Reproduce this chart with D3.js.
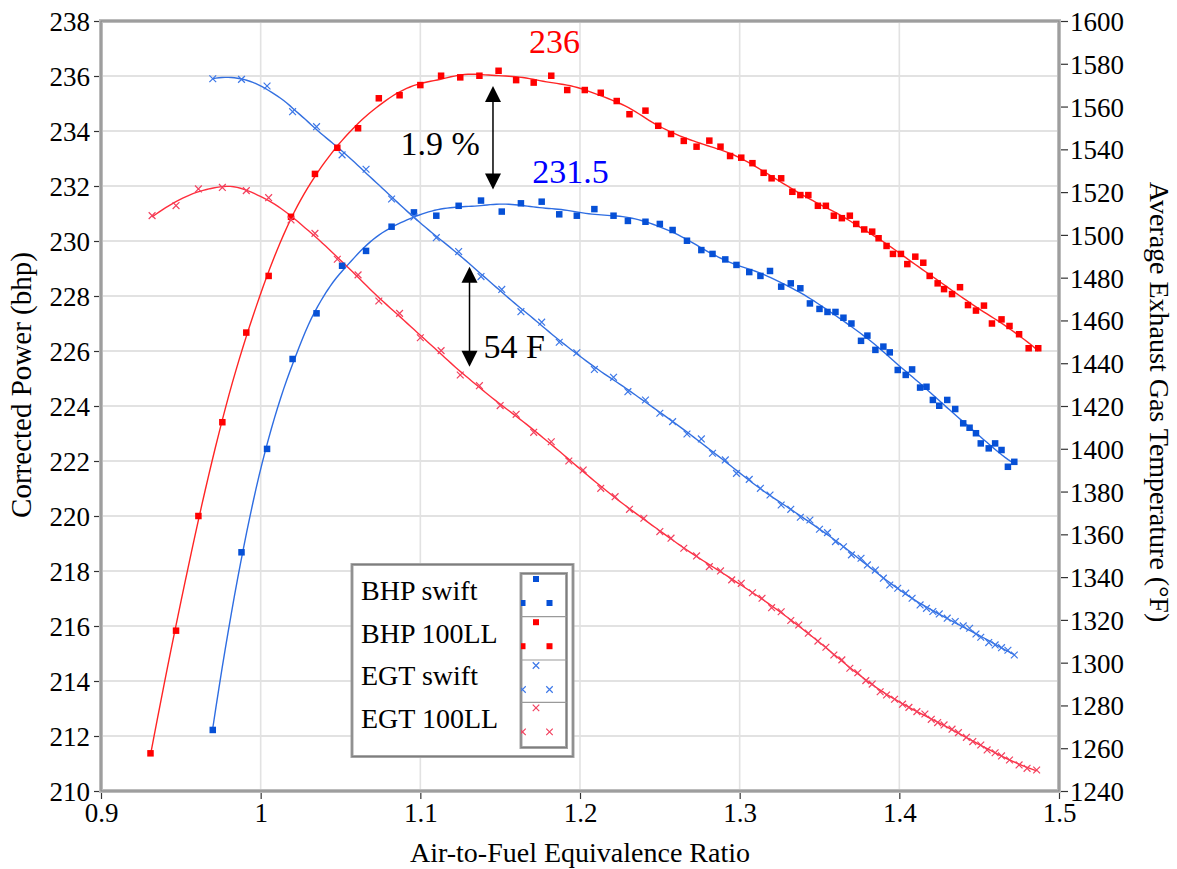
<!DOCTYPE html>
<html><head><meta charset="utf-8">
<script src="https://cdn.jsdelivr.net/npm/d3@7/dist/d3.min.js"></script>
<style>
body{margin:0;background:#fff;}
svg{display:block;}
text{font-family:'Liberation Serif','Times New Roman',serif;fill:#000;}
</style>
</head><body>
<svg id="chart" width="1177" height="869"></svg>
<script>
// ---------------- data ----------------
const xTicks = [0.9, 1.0, 1.1, 1.2, 1.3, 1.4, 1.5];
const xTickLabels = ["0.9", "1", "1.1", "1.2", "1.3", "1.4", "1.5"];
const yLeftTicks = [210,212,214,216,218,220,222,224,226,228,230,232,234,236,238];
const yRightTicks = [1240,1260,1280,1300,1320,1340,1360,1380,1400,1420,1440,1460,1480,1500,1520,1540,1560,1580,1600];
const seriesNames = ["BHP swift", "BHP 100LL", "EGT swift", "EGT 100LL"];

// swift fuel test points (shared by BHP swift and EGT swift)
const ratioSwift = [0.970,0.988,1.004,1.020,1.035,1.051,1.066,1.082,1.096,1.110,1.124,1.138,1.151,1.163,1.176,1.187,1.198,1.209,1.221,1.230,1.241,1.250,1.258,1.267,1.276,1.283,1.291,1.298,1.306,1.313,1.319,1.326,1.332,1.338,1.344,1.350,1.355,1.360,1.365,1.370,1.376,1.380,1.385,1.390,1.394,1.399,1.404,1.408,1.413,1.417,1.421,1.425,1.430,1.435,1.440,1.444,1.448,1.451,1.456,1.460,1.464,1.468,1.472];
const bhpSwift = [212.22,218.68,222.44,225.71,227.37,229.10,229.64,230.52,231.04,230.92,231.28,231.47,231.07,231.37,231.43,230.97,230.92,231.16,230.92,230.73,230.70,230.62,230.40,230.01,229.67,229.53,229.33,229.13,228.87,228.73,228.91,228.34,228.46,228.28,227.73,227.53,227.42,227.42,227.21,227.00,226.37,226.56,226.04,226.16,225.95,225.31,225.13,225.33,224.67,224.70,224.22,224.01,224.22,223.89,223.37,223.21,223.01,222.64,222.46,222.64,222.40,221.79,221.97];
const egtSwift = [1573.0,1572.7,1569.6,1557.6,1550.6,1537.4,1530.7,1516.8,1508.4,1498.7,1492.2,
  1480.5,1474.5,1464.1,1459.2,1449.8,1444.9,1437.1,1433.4,1426.7,1422.8,
  1416.6,1412.7,1406.9,1404.6,1397.9,1394.8,1388.5,1385.7,1381.5,1378.4,
  1373.7,1371.7,1368.0,1366.7,1362.4,1360.8,1356.6,1354.2,1350.4,1348.8,
  1345.7,1343.3,1339.5,1336.3,1334.8,1332.5,1330.1,1327.0,1325.4,1323.9,
  1322.8,1320.8,1319.2,1317.2,1316.1,1313.4,1311.9,1309.4,1308.3,1307.0,1305.8,1303.6];

// 100LL fuel
const ratioBhp100 = [0.931,0.947,0.961,0.976,0.991,1.005,1.019,1.034,1.048,1.061,1.074,1.087,1.100,1.113,1.125,1.137,1.149,1.160,1.171,1.182,1.192,1.203,1.213,1.223,1.231,1.241,1.249,1.257,1.265,1.273,1.281,1.288,1.294,1.301,1.308,1.315,1.320,1.326,1.333,1.338,1.343,1.349,1.354,1.359,1.364,1.369,1.373,1.378,1.383,1.387,1.392,1.396,1.401,1.405,1.410,1.415,1.419,1.424,1.428,1.433,1.438,1.443,1.448,1.453,1.458,1.464,1.469,1.475,1.481,1.487];
const bhp100 = [211.37,215.83,220.0,223.41,226.67,228.73,230.88,232.44,233.39,234.10,235.19,235.30,235.67,236.01,235.95,236.01,236.19,235.85,235.76,236.01,235.49,235.49,235.39,235.09,234.61,234.74,234.19,233.89,233.64,233.43,233.65,233.43,233.09,233.03,232.83,232.48,232.28,232.28,231.79,231.67,231.67,231.28,231.28,230.92,230.83,230.92,230.62,230.42,230.34,230.10,229.82,229.53,229.53,229.16,229.43,229.21,228.73,228.46,228.25,228.07,228.32,227.67,227.47,227.65,227.0,227.15,226.91,226.61,226.10,226.10];
const ratioEgt100 = [0.932,0.947,0.961,0.976,0.991,1.005,1.019,1.034,1.048,1.061,1.074,1.087,1.100,1.113,1.125,1.137,1.150,1.160,1.171,1.182,1.193,1.202,1.213,1.222,1.231,1.240,1.250,1.257,1.265,1.273,1.281,1.288,1.295,1.301,1.308,1.314,1.320,1.326,1.332,1.337,1.343,1.349,1.354,1.359,1.364,1.369,1.374,1.379,1.383,1.388,1.392,1.397,1.402,1.406,1.411,1.416,1.420,1.424,1.428,1.433,1.437,1.442,1.446,1.451,1.455,1.460,1.464,1.469,1.475,1.480,1.486];
const egt100 = [1509.0,1513.7,1521.5,1522.2,1520.7,1517.4,1507.0,1500.7,1488.6,1481.3,1469.1,1463.3,1451.9,1445.9,1434.5,1429.5,1420.2,1416.1,1407.7,1403.3,1394.3,1390.1,1381.5,1377.6,1371.7,1367.5,1361.3,1358.2,1353.5,1349.9,1344.9,1342.9,1338.7,1337.1,1332.7,1330.1,1325.7,1323.8,1319.7,1317.6,1313.8,1310.1,1307.2,1303.6,1301.3,1297.4,1295.3,1291.6,1290.0,1286.4,1284.9,1282.9,1280.6,1279.1,1277.1,1276.0,1273.5,1272.0,1270.9,1268.9,1267.3,1265.1,1263.1,1261.5,1259.2,1257.9,1256.4,1254.5,1252.2,1250.6,1249.8];

// annotations
const peakLabels = [{text:"236", x:1.184, y:236.84, color:"#ff0000"}, {text:"231.5", x:1.194, y:232.11, color:"#0000ff"}];
const gapLabels = [{text:"1.9 %", x:1.0875, y:233.13}, {text:"54 F", x:1.1396, y:225.75}];

// ---------------- layout ----------------
const FONT = "'Liberation Serif','Times New Roman',serif";
const svg = d3.select("#chart");
const P = {left:101, right:1059, top:21, bottom:791};
const x = d3.scaleLinear().domain([0.9,1.5]).range([P.left, P.right]);
const yL = d3.scaleLinear().domain([210,238]).range([P.bottom, P.top]);
const yR = d3.scaleLinear().domain([1240,1600]).range([P.bottom, P.top]);

svg.append("rect").attr("width",1177).attr("height",869).attr("fill","#fff");

// grid
const grid = svg.append("g");
grid.selectAll("line.h").data(yLeftTicks.slice(1,-1)).join("line")
  .attr("x1",P.left).attr("x2",P.right).attr("y1",d=>yL(d)).attr("y2",d=>yL(d))
  .attr("stroke","#d9d9d9").attr("stroke-width",1.6);
grid.selectAll("line.v").data(xTicks.slice(1,-1)).join("line")
  .attr("y1",P.top).attr("y2",P.bottom).attr("x1",d=>x(d)).attr("x2",d=>x(d))
  .attr("stroke","#e2e2e2").attr("stroke-width",1.6);

// axes
const fs = 27;
const axL = svg.append("g").attr("transform",`translate(${P.left-2},0)`)
  .call(d3.axisLeft(yL).tickValues(yLeftTicks).tickSize(5).tickPadding(4).tickFormat(d3.format("d")));
const axR = svg.append("g").attr("transform",`translate(${P.right+2},0)`)
  .call(d3.axisRight(yR).tickValues(yRightTicks).tickSize(7).tickPadding(2).tickFormat(d3.format("d")));
const axB = svg.append("g").attr("transform",`translate(0,${P.bottom+2})`)
  .call(d3.axisBottom(x).tickValues(xTicks).tickSize(6).tickPadding(4).tickFormat((d,i)=>xTickLabels[i]));
[axL,axR,axB].forEach(a=>{
  a.attr("font-family",null).attr("font-size",null);
  a.select(".domain").remove();
  a.selectAll("text").style("font-family",FONT).style("font-size",fs+"px").style("fill","#000");
  a.selectAll("line").attr("stroke","#333").attr("stroke-width",1.2);
});
axL.selectAll("text").attr("dy","0.35em");
axR.selectAll("text").attr("dy","0.35em");

// frame
svg.append("rect").attr("x",P.left).attr("y",P.top).attr("width",P.right-P.left).attr("height",P.bottom-P.top)
  .attr("fill","none").attr("stroke","#bcbcbc").attr("stroke-width",4);
svg.append("rect").attr("x",P.left).attr("y",P.top).attr("width",P.right-P.left).attr("height",P.bottom-P.top)
  .attr("fill","none").attr("stroke","#8a8a8a").attr("stroke-width",1.2);

// titles
svg.append("text").attr("x",580).attr("y",862).attr("text-anchor","middle").style("font-size","28px")
  .text("Air-to-Fuel Equivalence Ratio");
svg.append("text").attr("transform","translate(31,385) rotate(-90)").attr("text-anchor","middle").style("font-size","29px")
  .text("Corrected Power (bhp)");
svg.append("text").attr("transform","translate(1150,402) rotate(90)").attr("text-anchor","middle").style("font-size","28px")
  .text("Average Exhaust Gas Temperature (\u00B0F)");

// ---------------- smoothing fit (local quadratic regression) ----------------
function solve3(A,b){
  const M=A.map((r,i)=>[...r,b[i]]);
  for(let c=0;c<3;c++){
    let p=c; for(let r=c+1;r<3;r++) if(Math.abs(M[r][c])>Math.abs(M[p][c])) p=r;
    [M[c],M[p]]=[M[p],M[c]];
    for(let r=c+1;r<3;r++){const f=M[r][c]/M[c][c]; for(let k=c;k<4;k++) M[r][k]-=f*M[c][k];}
  }
  const s=[0,0,0];
  for(let r=2;r>=0;r--){let v=M[r][3]; for(let k=r+1;k<3;k++) v-=M[r][k]*s[k]; s[r]=v/M[r][r];}
  return s;
}
function loess(xs, ys, h, kmin){
  const lo=d3.min(xs), hi=d3.max(xs), N=260, out=[];
  for(let i=0;i<=N;i++){
    const x0=lo+(hi-lo)*i/N;
    const d=xs.map(v=>Math.abs(v-x0));
    const srt=d.slice().sort((a,b)=>a-b);
    const bw=Math.max(h, srt[Math.min(kmin,srt.length-1)]*1.0001);
    let S=[0,0,0,0,0], T=[0,0,0];
    for(let j=0;j<xs.length;j++){
      if(d[j]>=bw) continue;
      const w=Math.pow(1-Math.pow(d[j]/bw,3),3);
      const u=(xs[j]-x0)/bw;
      S[0]+=w; S[1]+=w*u; S[2]+=w*u*u; S[3]+=w*u*u*u; S[4]+=w*u*u*u*u;
      T[0]+=w*ys[j]; T[1]+=w*u*ys[j]; T[2]+=w*u*u*ys[j];
    }
    const a=solve3([[S[0],S[1],S[2]],[S[1],S[2],S[3]],[S[2],S[3],S[4]]],T);
    out.push([x0,a[0]]);
  }
  return out;
}

const series = [
  {name:seriesNames[0], xs:ratioSwift, ys:bhpSwift, y:yL, marker:"square", color:"#0650d6", line:"#2e6de2"},
  {name:seriesNames[1], xs:ratioBhp100, ys:bhp100, y:yL, marker:"square", color:"#ff0000", line:"#ff2424"},
  {name:seriesNames[2], xs:ratioSwift, ys:egtSwift, y:yR, marker:"x", color:"#3d78e8", line:"#3470e0"},
  {name:seriesNames[3], xs:ratioEgt100, ys:egt100, y:yR, marker:"x", color:"#f2415f", line:"#ff2e3e"}
];

svg.append("clipPath").attr("id","plotclip").append("rect")
  .attr("x",P.left+2).attr("y",P.top+1).attr("width",P.right-P.left-4).attr("height",P.bottom-P.top-3);
const plot = svg.append("g").attr("clip-path","url(#plotclip)");

const SQ=6.5, XS=3.4;
function drawMarker(g, type, color, cx, cy, s){
  if(type==="square"){
    g.append("rect").attr("x",cx-s/2).attr("y",cy-s/2).attr("width",s).attr("height",s).attr("fill",color);
  } else {
    const r=s/2;
    g.append("path").attr("d",`M${cx-r},${cy-r}L${cx+r},${cy+r}M${cx-r},${cy+r}L${cx+r},${cy-r}`)
      .attr("stroke",color).attr("stroke-width",1.2).attr("fill","none");
  }
}

series.forEach(s=>{
  const fit = loess(s.xs, s.ys, 0.055, 5);
  plot.append("path").datum(fit)
    .attr("d", d3.line().x(d=>x(d[0])).y(d=>s.y(d[1])).curve(d3.curveLinear))
    .attr("fill","none").attr("stroke",s.line).attr("stroke-width",1.4);
});
series.forEach(s=>{
  const g = plot.append("g");
  s.xs.forEach((xv,i)=>{
    drawMarker(g, s.marker, s.color, x(xv), s.y(s.ys[i]), s.marker==="square"?SQ:XS*2);
  });
});

// ---------------- annotations ----------------
peakLabels.forEach(p=>{
  svg.append("text").attr("x",x(p.x)).attr("y",yL(p.y)).attr("text-anchor","middle")
    .style("font-size","34px").style("fill",p.color).text(p.text);
});
gapLabels.forEach(p=>{
  svg.append("text").attr("x",x(p.x)).attr("y",yL(p.y)).style("font-size","34px").text(p.text);
});
function dblArrow(xp, y1, y2){
  const hw=8, hl=16;
  svg.append("line").attr("x1",xp).attr("x2",xp).attr("y1",y1+hl-2).attr("y2",y2-hl+2)
    .attr("stroke","#000").attr("stroke-width",1.5);
  svg.append("path").attr("d",`M${xp},${y1}L${xp-hw},${y1+hl}L${xp+hw},${y1+hl}Z`).attr("fill","#000");
  svg.append("path").attr("d",`M${xp},${y2}L${xp-hw},${y2-hl}L${xp+hw},${y2-hl}Z`).attr("fill","#000");
}
dblArrow(x(1.1455), yL(235.64), yL(231.87));
dblArrow(x(1.1308), yR(1485.1), yR(1438.4));

// ---------------- legend ----------------
const lg = svg.append("g");
lg.append("rect").attr("x",352).attr("y",564.5).attr("width",221).attr("height",192)
  .attr("fill","#fff").attr("stroke","#a4a4a4").attr("stroke-width",3);
lg.append("rect").attr("x",352).attr("y",564.5).attr("width",221).attr("height",192)
  .attr("fill","none").attr("stroke","#7e7e7e").attr("stroke-width",1);
const rowBase = [600, 642.7, 685, 728.3];
seriesNames.forEach((n,i)=>{
  lg.append("text").attr("x",361).attr("y",rowBase[i]).style("font-size","28px").text(n);
});
const ib = {x:521, y:573.5, w:45.5, h:174};
lg.append("clipPath").attr("id","legclip").append("rect").attr("x",ib.x).attr("y",ib.y).attr("width",ib.w).attr("height",ib.h);
lg.append("rect").attr("x",ib.x).attr("y",ib.y).attr("width",ib.w).attr("height",ib.h)
  .attr("fill","#fff").attr("stroke","#a4a4a4").attr("stroke-width",3);
lg.append("rect").attr("x",ib.x).attr("y",ib.y).attr("width",ib.w).attr("height",ib.h)
  .attr("fill","none").attr("stroke","#7e7e7e").attr("stroke-width",1);
const cellTops = [573.5, 616.7, 660, 702.3];
[616.7,660,702.3].forEach(yy=>{
  lg.append("line").attr("x1",ib.x).attr("x2",ib.x+ib.w).attr("y1",yy).attr("y2",yy)
    .attr("stroke","#9a9a9a").attr("stroke-width",1.2);
});
const lm = lg.append("g").attr("clip-path","url(#legclip)");
series.forEach((s,i)=>{
  const t=cellTops[i];
  const sz = s.marker==="square"?6:6.5;
  drawMarker(lm, s.marker, s.color, 536, t+5.5, sz);
  drawMarker(lm, s.marker, s.color, 522.5, t+29.5, sz);
  drawMarker(lm, s.marker, s.color, 549.5, t+29.5, sz);
});
</script>
</body></html>
